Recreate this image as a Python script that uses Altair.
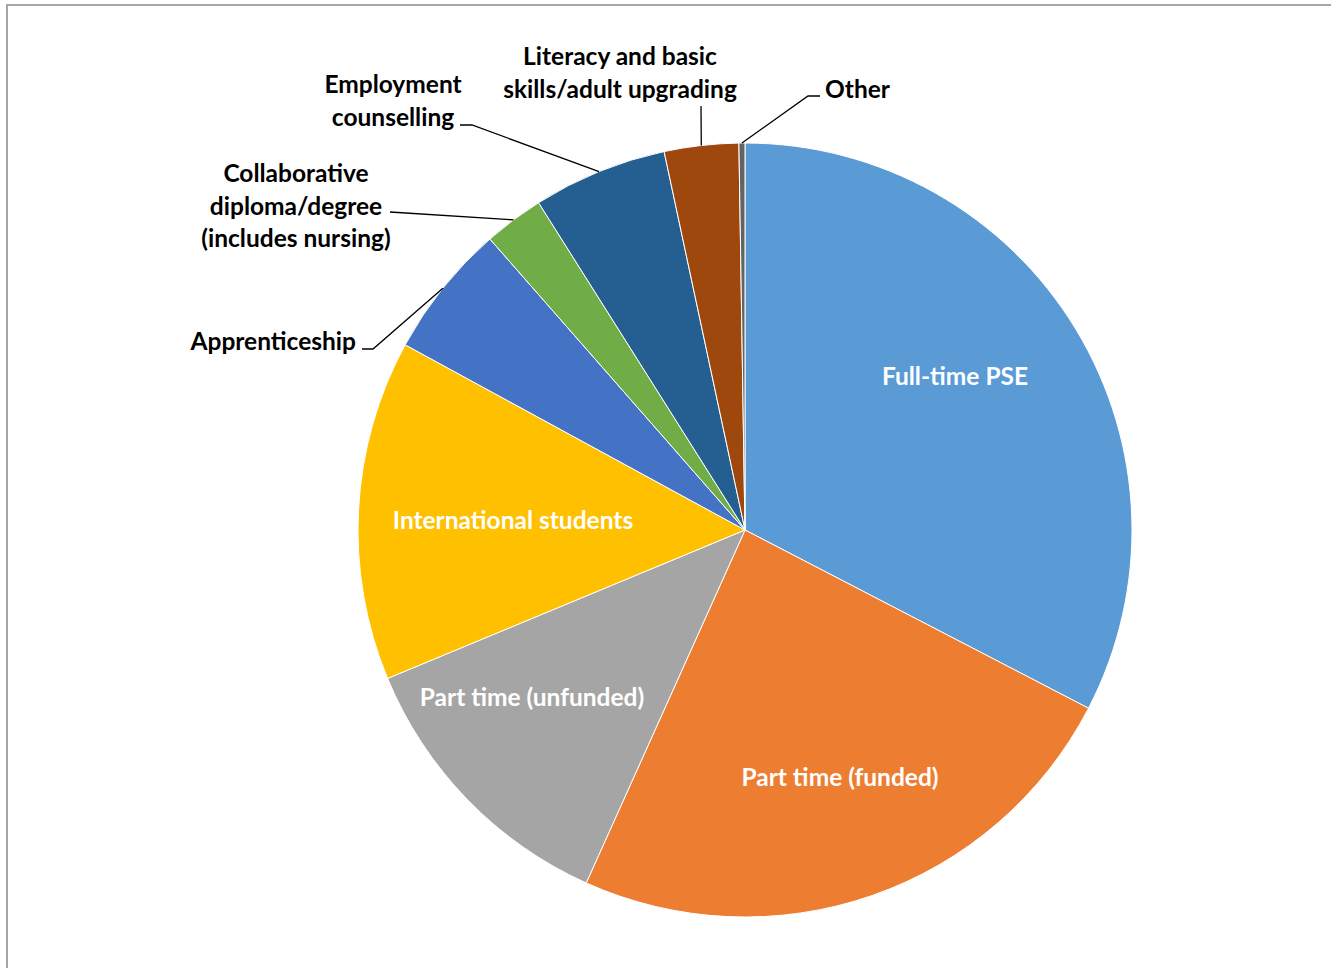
import altair as alt
import pandas as pd
import numpy as np

# ---- data ----
categories = [
    "Full-time PSE",
    "Part time (funded)",
    "Part time (unfunded)",
    "International students",
    "Apprenticeship",
    "Collaborative diploma/degree (includes nursing)",
    "Employment counselling",
    "Literacy and basic skills/adult upgrading",
    "Other",
]
shares = [32.6, 24.1, 12.0, 14.2, 5.6, 2.5, 5.6, 3.1, 0.25]
label_text = [
    "Full-time PSE",
    "Part time (funded)",
    "Part time (unfunded)",
    "International students",
    "Apprenticeship",
    "Collaborative\ndiploma/degree\n(includes nursing)",
    "Employment\ncounselling",
    "Literacy and basic\nskills/adult upgrading",
    "Other",
]

# ---- style / layout ----
colors = ["#5B9BD5", "#ED7D31", "#A5A5A5", "#FFC000", "#4472C4",
          "#70AD47", "#255E91", "#9E480E", "#636363"]
CX, CY, R = 745, 530, 387
W, H = 1331, 968
FONT = "Lato"
FSIZE = 24.5
label_x = [955, 840, 532, 513, 356, 296, 393, 620, 825]
label_y = [378, 779, 699, 522, 343, 175, 86, 58, 91]   # first-line centres
label_align = ["center"] * 4 + ["right", "center", "center", "center", "left"]
label_fill = ["white"] * 4 + ["black"] * 5
# leader line bends (after the point on the pie edge), for outside labels
leader_bends = {
    4: [(373, 349), (362, 349)],
    5: [(390, 212)],
    6: [(472, 125), (460, 125)],
    7: [(701, 106)],
    8: [(808, 96), (820, 96)],
}

df = pd.DataFrame({
    "category": categories,
    "share": shares,
    "idx": list(range(len(categories))),
})

lab = pd.DataFrame({
    "text": label_text,
    "x": label_x,
    "y": label_y,
    "align": label_align,
    "fill": label_fill,
})

# leader lines: start on the pie edge at the middle angle of the slice
total = sum(shares)
cum = np.cumsum([0] + shares)
rows = []
for i, bends in leader_bends.items():
    mid = (cum[i] + cum[i + 1]) / 2 / total * 2 * np.pi
    sx = CX + R * np.sin(mid)
    sy = CY - R * np.cos(mid)
    pts = [(sx, sy)] + bends
    for k, (px, py) in enumerate(pts):
        rows.append({"cat": categories[i], "k": k, "x": px, "y": py})
lead = pd.DataFrame(rows)

xs = alt.Scale(domain=[0, W], range=[0, W], nice=False, zero=False)
ys = alt.Scale(domain=[0, H], range=[0, H], nice=False, zero=False)

pie = alt.Chart(df).mark_arc(stroke="white", strokeWidth=1).encode(
    theta=alt.Theta("share:Q", stack=True),
    order=alt.Order("idx:Q", sort="ascending"),
    color=alt.Color("category:N", sort=categories,
                    scale=alt.Scale(domain=categories, range=colors), legend=None),
    x=alt.value(CX),
    y=alt.value(CY),
    radius=alt.value(R),
)

lines = alt.Chart(lead).mark_line(color="black", strokeWidth=1.3).encode(
    x=alt.X("x:Q", scale=xs, axis=None),
    y=alt.Y("y:Q", scale=ys, axis=None),
    detail="cat:N",
    order="k:Q",
)

def text_layer(align):
    return alt.Chart(lab).transform_filter(
        alt.datum.align == align
    ).mark_text(
        align=align, baseline="middle", font=FONT, fontSize=FSIZE,
        fontWeight="bold", lineBreak="\n", lineHeight=32.5,
    ).encode(
        x=alt.X("x:Q", scale=xs, axis=None),
        y=alt.Y("y:Q", scale=ys, axis=None),
        text="text:N",
        color=alt.Color("fill:N", scale=None),
    )

border = alt.Chart(df).mark_rect(fill=None, stroke="#A6A6A6", strokeWidth=2).encode(
    x=alt.value(7), y=alt.value(5), x2=alt.value(W + 20), y2=alt.value(H + 20)
)

chart = alt.layer(
    border, pie, lines,
    text_layer("center"), text_layer("right"), text_layer("left"),
).properties(
    width=W, height=H, padding=0, autosize=alt.AutoSizeParams(type="none"),
).configure_view(stroke=None)

chart.save("out.html", embed_options={"renderer": "svg", "actions": False})
